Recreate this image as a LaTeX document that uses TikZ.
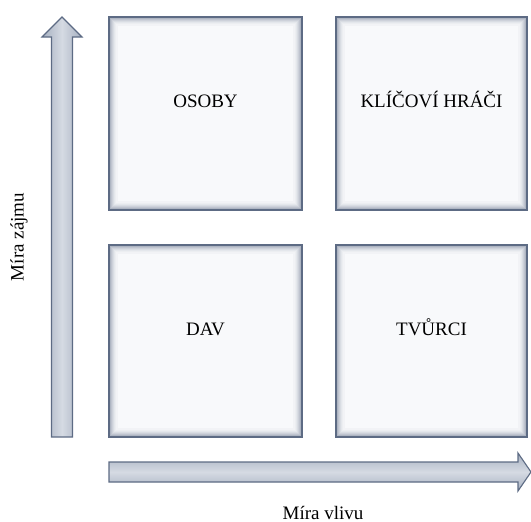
\documentclass[tikz,border=0pt]{standalone}
\usepackage{fontspec}
\setmainfont{Liberation Serif}
\usetikzlibrary{calc}
\definecolor{edge}{HTML}{5D6B84}
\definecolor{pale}{HTML}{F8F9FB}
\definecolor{shaft}{HTML}{D5DAE3}
\definecolor{shaftdark}{HTML}{A6B0C0}

\begin{document}
\begin{tikzpicture}[x=1pt,y=-1pt,font=\fontsize{19}{22}\selectfont,
  box/.style={draw=edge,line width=1.3pt,fill=pale,inner sep=0pt,
    minimum width=193pt,minimum height=193pt,text height=13pt,text depth=25pt,
    path picture={\foreach \d/\p in {1/62,2/48,3/37,4/28,5/20,6/13,7/8,8/4}
      \draw[edge!\p!pale,line width=1.1pt]
        ($(path picture bounding box.south west)+(\d pt,\d pt)$) rectangle
        ($(path picture bounding box.north east)-(\d pt,\d pt)$);}},
  vaxis/.style={draw=edge,line width=1.1pt,left color=shaftdark,right color=shaftdark,middle color=shaft},
  haxis/.style={draw=edge,line width=1.1pt,top color=shaftdark,bottom color=shaftdark,middle color=shaft}]
\useasboundingbox (0,0) rectangle (531,522);

% quadrants
\node[box] (osoby) at (205.5,113.5) {OSOBY};
\node[box,minimum width=191pt] (hraci) at (431.5,113.5) {KLÍČOVÍ HRÁČI};
\node[box,minimum height=192pt] (dav) at (205.5,341) {DAV};
\node[box,minimum width=191pt,minimum height=192pt] (tvurci) at (431.5,341) {TVŮRCI};

% axes
\draw[vaxis] (51.5,437)--(51.5,37)--(42,37)--(62,17)--(82,37)--(72.5,37)--(72.5,437)--cycle;
\draw[haxis] (109,462)--(518,462)--(518,453)--(531,472)--(518,491)--(518,482)--(109,482)--cycle;

% axis labels
\node[rotate=90] (zajem) at (19,237) {Míra zájmu};
\node[anchor=base,inner sep=1pt] (vliv) at (323,519) {Míra vlivu};

\end{tikzpicture}
\end{document}
